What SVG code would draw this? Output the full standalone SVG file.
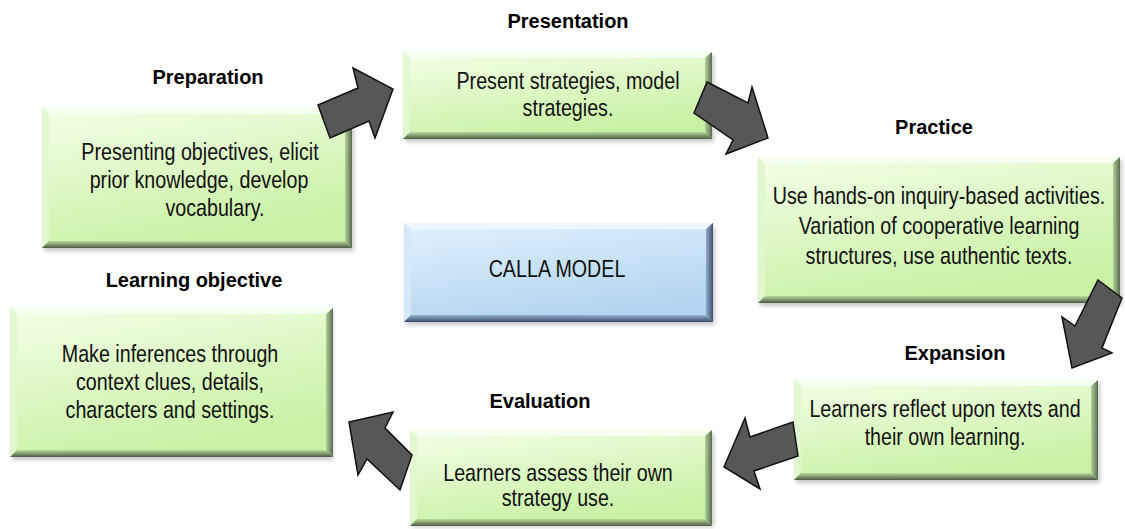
<svg xmlns="http://www.w3.org/2000/svg" width="1125" height="529" viewBox="0 0 1125 529">
  <defs>
    <linearGradient id="faceGreen" x1="0" y1="0" x2="0.4" y2="1">
      <stop offset="0" stop-color="#f3ffe8"/>
      <stop offset="1" stop-color="#c9f1a4"/>
    </linearGradient>
    <linearGradient id="faceBlue" x1="0" y1="0" x2="0.4" y2="1">
      <stop offset="0" stop-color="#e3f2fd"/>
      <stop offset="1" stop-color="#b3d4f0"/>
    </linearGradient>
    <linearGradient id="bottomGreen" x1="0" y1="0" x2="0" y2="1">
      <stop offset="0" stop-color="#b9dc9c"/>
      <stop offset="1" stop-color="#4d5a45"/>
    </linearGradient>
    <linearGradient id="rightGreen" x1="0" y1="0" x2="1" y2="0">
      <stop offset="0" stop-color="#b0d296"/>
      <stop offset="1" stop-color="#5a6a50"/>
    </linearGradient>
    <linearGradient id="bottomBlue" x1="0" y1="0" x2="0" y2="1">
      <stop offset="0" stop-color="#94b2d2"/>
      <stop offset="1" stop-color="#3b4a68"/>
    </linearGradient>
    <linearGradient id="rightBlue" x1="0" y1="0" x2="1" y2="0">
      <stop offset="0" stop-color="#8eacce"/>
      <stop offset="1" stop-color="#44536e"/>
    </linearGradient>
    <filter id="soft" x="-10%" y="-10%" width="120%" height="130%">
      <feGaussianBlur stdDeviation="2"/>
    </filter>
  </defs>
  <style>
    .shadow { fill: #000; opacity: 0.22; filter: url(#soft); }
    .face-g { fill: url(#faceGreen); }
    .face-b { fill: url(#faceBlue); }
    .bot-g { fill: url(#bottomGreen); }
    .rgt-g { fill: url(#rightGreen); }
    .top-g { fill: #f7fff0; }
    .lft-g { fill: #e2f7cf; }
    .bot-b { fill: url(#bottomBlue); }
    .rgt-b { fill: url(#rightBlue); }
    .top-b { fill: #eef7ff; }
    .lft-b { fill: #d6e9f9; }
    .head { font-family: "Liberation Sans", Arial, sans-serif; font-weight: bold; font-size: 20px; fill: #000; text-anchor: middle; }
    .body { font-family: "Liberation Sans", Arial, sans-serif; font-size: 24px; fill: #111; text-anchor: middle; }
    .arrow { fill: #575757; stroke: #111; stroke-width: 1.5; stroke-linejoin: miter; }
  </style>

  <rect width="1125" height="529" fill="#ffffff"/>

  <!-- Preparation -->
  <g id="preparation">
    <text class="head" x="208" y="84">Preparation</text>
    <rect class="shadow" x="44" y="111" width="310" height="140"/>
    <rect class="face-g" x="42" y="108" width="310" height="140"/>
    <polygon class="top-g" points="42,108 352,108 345,114 49,114"/>
    <polygon class="lft-g" points="42,108 49,114 49,241 42,248"/>
    <polygon class="rgt-g" points="352,108 352,248 345,241 345,114"/>
    <polygon class="bot-g" points="42,248 352,248 345,241 49,241"/>
    <text class="body" transform="matrix(0.82 0 0 1 200 160)">Presenting objectives, elicit</text>
    <text class="body" transform="matrix(0.82 0 0 1 199 188)">prior knowledge, develop</text>
    <text class="body" transform="matrix(0.82 0 0 1 215 216)">vocabulary.</text>
  </g>

  <!-- Presentation -->
  <g id="presentation">
    <text class="head" x="568" y="28">Presentation</text>
    <rect class="shadow" x="405" y="55" width="309" height="87"/>
    <rect class="face-g" x="403" y="52" width="309" height="87"/>
    <polygon class="top-g" points="403,52 712,52 705,58 410,58"/>
    <polygon class="lft-g" points="403,52 410,58 410,132 403,139"/>
    <polygon class="rgt-g" points="712,52 712,139 705,132 705,58"/>
    <polygon class="bot-g" points="403,139 712,139 705,132 410,132"/>
    <text class="body" transform="matrix(0.82 0 0 1 568 89)">Present strategies, model</text>
    <text class="body" transform="matrix(0.82 0 0 1 568 116)">strategies.</text>
  </g>

  <!-- Practice -->
  <g id="practice">
    <text class="head" x="934" y="134">Practice</text>
    <rect class="shadow" x="760" y="160" width="362" height="146"/>
    <rect class="face-g" x="758" y="157" width="362" height="146"/>
    <polygon class="top-g" points="758,157 1120,157 1113,163 765,163"/>
    <polygon class="lft-g" points="758,157 765,163 765,296 758,303"/>
    <polygon class="rgt-g" points="1120,157 1120,303 1113,296 1113,163"/>
    <polygon class="bot-g" points="758,303 1120,303 1113,296 765,296"/>
    <text class="body" transform="matrix(0.82 0 0 1 939 204)" font-size="28">Use hands-on inquiry-based activities.</text>
    <text class="body" transform="matrix(0.82 0 0 1 939 234)" font-size="28">Variation of cooperative learning</text>
    <text class="body" transform="matrix(0.82 0 0 1 939 264)" font-size="28">structures, use authentic texts.</text>
  </g>

  <!-- CALLA MODEL (centre) -->
  <g id="calla-model">
    <rect class="shadow" x="406" y="226" width="309" height="99"/>
    <rect class="face-b" x="404" y="223" width="309" height="99"/>
    <polygon class="top-b" points="404,223 713,223 706,229 411,229"/>
    <polygon class="lft-b" points="404,223 411,229 411,315 404,322"/>
    <polygon class="rgt-b" points="713,223 713,322 706,315 706,229"/>
    <polygon class="bot-b" points="404,322 713,322 706,315 411,315"/>
    <text class="body" transform="matrix(0.82 0 0 1 557 277)">CALLA MODEL</text>
  </g>

  <!-- Learning objective -->
  <g id="learning-objective">
    <text class="head" x="194" y="287">Learning objective</text>
    <rect class="shadow" x="12" y="311" width="321" height="149"/>
    <rect class="face-g" x="10" y="308" width="323" height="149"/>
    <polygon class="top-g" points="10,308 333,308 326,314 17,314"/>
    <polygon class="lft-g" points="10,308 17,314 17,450 10,457"/>
    <polygon class="rgt-g" points="333,308 333,457 326,450 326,314"/>
    <polygon class="bot-g" points="10,457 333,457 326,450 17,450"/>
    <text class="body" transform="matrix(0.82 0 0 1 170 362)">Make inferences through</text>
    <text class="body" transform="matrix(0.82 0 0 1 170 390)">context clues, details,</text>
    <text class="body" transform="matrix(0.82 0 0 1 170 418)">characters and settings.</text>
  </g>

  <!-- Expansion -->
  <g id="expansion">
    <text class="head" x="955" y="360">Expansion</text>
    <rect class="shadow" x="796" y="383" width="304" height="100"/>
    <rect class="face-g" x="794" y="380" width="304" height="100"/>
    <polygon class="top-g" points="794,380 1098,380 1091,386 801,386"/>
    <polygon class="lft-g" points="794,380 801,386 801,473 794,480"/>
    <polygon class="rgt-g" points="1098,380 1098,480 1091,473 1091,386"/>
    <polygon class="bot-g" points="794,480 1098,480 1091,473 801,473"/>
    <text class="body" transform="matrix(0.82 0 0 1 945 417)">Learners reflect upon texts and</text>
    <text class="body" transform="matrix(0.82 0 0 1 945 445)">their own learning.</text>
  </g>

  <!-- Evaluation -->
  <g id="evaluation">
    <text class="head" x="540" y="408">Evaluation</text>
    <rect class="shadow" x="412" y="433" width="302" height="94"/>
    <rect class="face-g" x="410" y="430" width="302" height="96"/>
    <polygon class="top-g" points="410,430 712,430 705,436 417,436"/>
    <polygon class="lft-g" points="410,430 417,436 417,519 410,526"/>
    <polygon class="rgt-g" points="712,430 712,526 705,519 705,436"/>
    <polygon class="bot-g" points="410,526 712,526 705,519 417,519"/>
    <text class="body" transform="matrix(0.82 0 0 1 558 481)">Learners assess their own</text>
    <text class="body" transform="matrix(0.82 0 0 1 558 506)">strategy use.</text>
  </g>

  <!-- Block arrows between stages -->
  <g id="connectors">
    <polygon class="arrow" points="318,105 358,88 353,68 393,89 375,138 369,121 330,138"/>
    <polygon class="arrow" points="707,82 748,103 752,87 768,138 726,154 733,140 694,113"/>
    <polygon class="arrow" points="1098,280 1122,298 1102,348 1112,353 1072,368 1062,317 1075,326"/>
    <polygon class="arrow" points="793,422 798,456 754,471 760,489 724,467 745,418 750,437"/>
    <polygon class="arrow" points="349,422 393,412 385,428 412,455 400,490 367,459 358,475"/>
  </g>
</svg>
